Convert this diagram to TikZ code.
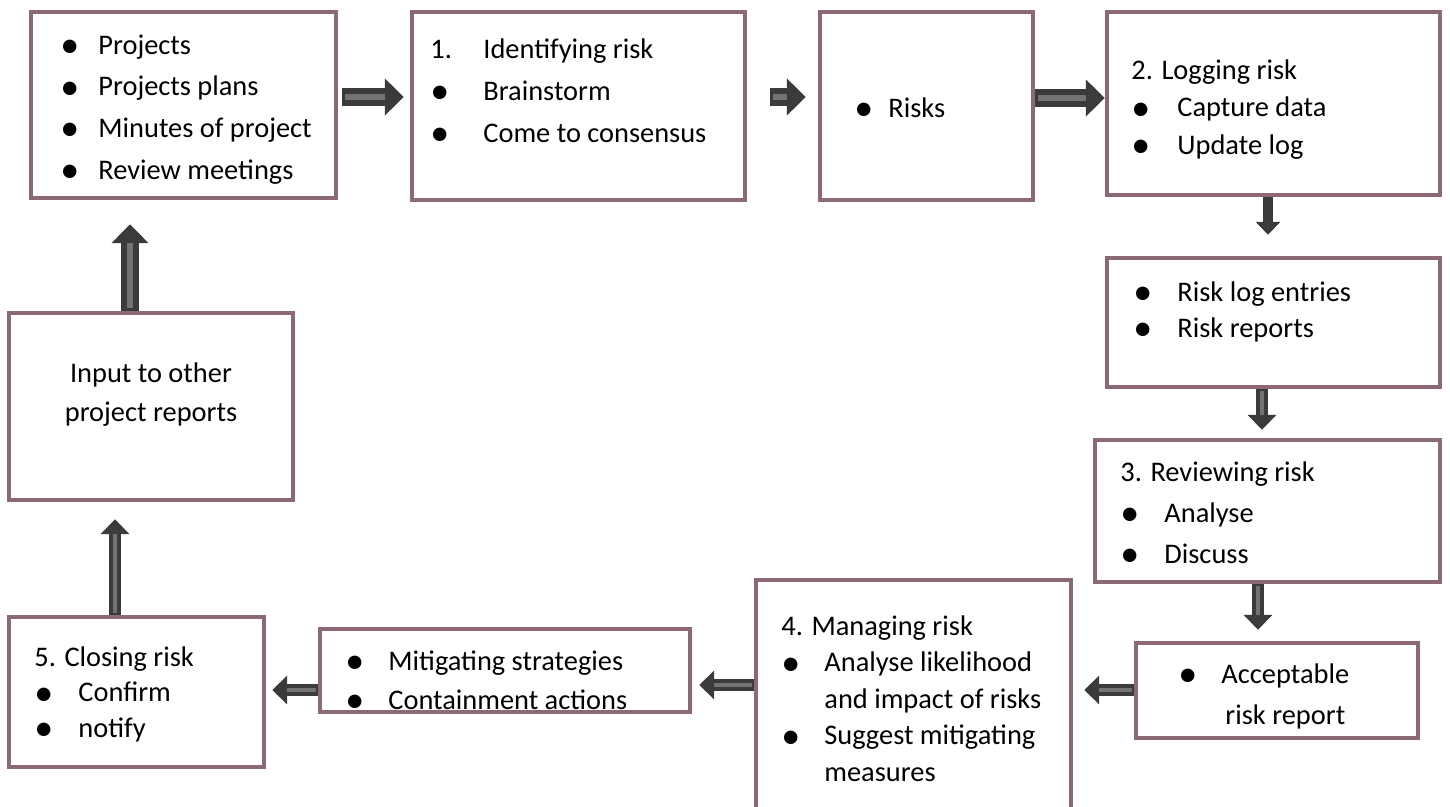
\documentclass[tikz,border=0pt]{standalone}
\usepackage{fontspec}
\setmainfont{Carlito}
\usetikzlibrary{arrows.meta, calc}

\definecolor{boxline}{RGB}{140,106,116}
\definecolor{arrdark}{RGB}{59,59,59}
\definecolor{arrgray}{RGB}{115,115,115}

\newcommand{\itm}[2][19pt]{\makebox[#1][l]{\raisebox{-1.6pt}{\fontsize{19pt}{0pt}\selectfont\textbullet}}#2}
\newcommand{\topl}{\rule{0pt}{11pt}}

\tikzset{
    box/.style={draw=boxline, line width=2.2pt, inner sep=0pt, fill=white},
    txt/.style={inner sep=0pt, anchor=north west, align=left,
        font=\fontsize{14.2pt}{#1}\selectfont},
    flow/.style={draw=arrdark, line width=9pt,
        -{Triangle[width=18pt, length=9.5pt]},
        postaction={draw=arrgray, line width=3pt, -, shorten >=9.5pt, shorten <=1.5pt}},
    flowthin/.style={draw=arrdark, line width=6pt,
        -{Triangle[width=14pt, length=7.5pt]},
        postaction={draw=arrgray, line width=2pt, -, shorten >=7.5pt, shorten <=1pt}},
    flowsolid/.style={draw=arrdark, line width=5pt,
        -{Triangle[width=12pt, length=6.5pt]}}
}

\begin{document}
\begin{tikzpicture}[x=0.5pt, y=-0.5pt]
    \clip (0,0) rectangle (1450,807);

    % Boxes
    \node[box, minimum width=152.5pt, minimum height=93pt] (a) at (183.5,105) {};
    \node[box, minimum width=166.5pt, minimum height=94pt] (b) at (578.5,106) {};
    \node[box, minimum width=106.5pt, minimum height=94pt] (c) at (926.5,106) {};
    \node[box, minimum width=166.5pt, minimum height=91.5pt] (d) at (1273.5,103.5) {};
    \node[box, minimum width=166.5pt, minimum height=64.5pt] (e) at (1273.5,322.5) {};
    \node[box, minimum width=172.5pt, minimum height=71pt] (f) at (1267.5,511) {};
    \node[box, minimum width=141pt, minimum height=47.5pt] (g) at (1277,690.5) {};
    \node[box, minimum width=157.5pt, minimum height=125pt] (h) at (913.5,705) {};
    \node[box, minimum width=185pt, minimum height=41.5pt] (i) at (505,670.5) {};
    \node[box, minimum width=127.5pt, minimum height=75pt] (j) at (136.5,692) {};
    \node[box, minimum width=142pt, minimum height=93.5pt] (k) at (151,406.5) {};

    % Texts
    \node[txt=20.8pt] (a-t) at (60,32)
        {\topl\itm{Projects}\\\itm{Projects plans}\\\itm{Minutes of project}\\\itm{Review meetings}};
    \node[txt=21pt] (b-t) at (430,36)
        {\topl\makebox[26.5pt][l]{1.}Identifying risk\\\itm[26.5pt]{Brainstorm}\\\itm[26.5pt]{Come to consensus}};
    \node[txt=20pt] (c-t) at (854,95) {\topl\itm[17pt]{Risks}};
    \node[txt=18.75pt] (d-t) at (1131,57)
        {\topl 2. Logging risk\\\itm[23pt]{Capture data}\\\itm[23pt]{Update log}};
    \node[txt=18pt] (e-t) at (1133,279)
        {\topl\itm[22pt]{Risk log entries}\\\itm[22pt]{Risk reports}};
    \node[txt=20.5pt] (f-t) at (1120,459)
        {\topl 3. Reviewing risk\\\itm[22pt]{Analyse}\\\itm[22pt]{Discuss}};
    \node[txt=20.5pt] (g-t) at (1178,661)
        {\topl\itm[21.5pt]{Acceptable}\\\hspace*{23.5pt}risk report};
    \node[txt=18.25pt] (h-t) at (781,613)
        {\topl 4. Managing risk\\\itm[21.5pt]{Analyse likelihood}\\\hspace*{21.5pt}and impact of risks\\\itm[21.5pt]{Suggest mitigating}\\\hspace*{21.5pt}measures};
    \node[txt=19.5pt] (i-t) at (345,648)
        {\topl\itm[21.5pt]{Mitigating strategies}\\\itm[21.5pt]{Containment actions}};
    \node[txt=17.75pt] (j-t) at (34,644)
        {\topl 5. Closing risk\\\itm[22pt]{Confirm}\\\itm[22pt]{notify}};
    \node[txt=19.5pt, anchor=north, align=center] (k-t) at (151,360)
        {\topl Input to other\\project reports};

    % Arrows
    \draw[flow] ($(a.east)+(4,-8)$) -- ($(b.west)+(-6,-9)$);
    \draw[flow] ($(b.east)+(23,-9)$) -- ($(c.west)+(-12,-9)$);
    \draw[flow] ($(c.east)+(0,-8)$) -- ($(d.west)+(0,-5.5)$);
    \draw[flowsolid] ($(d.south)+(-5.5,0)$) -- ($(e.north)+(-5.5,-21)$);
    \draw[flowthin] ($(e.south)+(-11.5,0)$) -- ($(f.north)+(-5.5,-8)$);
    \draw[flowthin] ($(f.south)+(-9.5,0)$) -- ($(g.north)+(-19,-11)$);
    \draw[flowthin] ($(g.west)+(0,-0.5)$) -- ($(h.east)+(11,-15)$);
    \draw[flowthin] ($(h.west)+(0,-20)$) -- ($(i.east)+(7,14.5)$);
    \draw[flowthin] ($(i.west)+(0,19.5)$) -- ($(j.east)+(6,-2)$);
    \draw[flowthin] ($(j.north)+(-21.5,0)$) -- ($(k.south)+(-36,17)$);
    \draw[flow] ($(k.north)+(-21,0)$) -- ($(a.south)+(-53.5,24)$);
\end{tikzpicture}
\end{document}
